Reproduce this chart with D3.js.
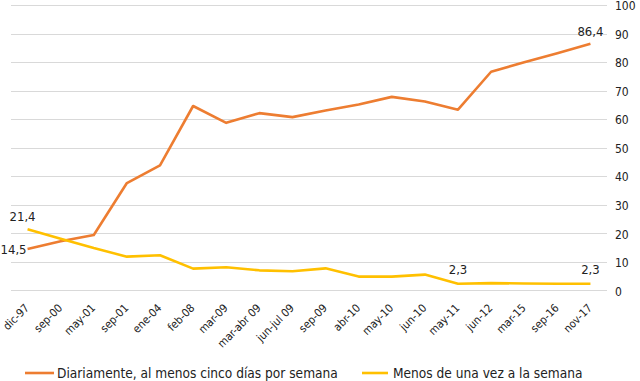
<!DOCTYPE html>
<html><head><meta charset="utf-8">
<script src="https://cdn.jsdelivr.net/npm/d3@7"></script>
<style>body{margin:0;background:#fff}svg{display:block}</style>
</head><body>
<svg id="c" width="640" height="381"></svg>
<script>
const categories = ["dic-97","sep-00","may-01","sep-01","ene-04","feb-08","mar-09","mar-abr 09","jun-jul 09","sep-09","abr-10","may-10","jun-10","may-11","jun-12","mar-15","sep-16","nov-17"];
const diariamente = [14.5,17.2,19.4,37.6,43.8,64.6,58.7,62.1,60.7,63.0,65.1,67.8,66.2,63.3,76.6,79.9,83.1,86.4];
const menosUnaVez = [21.4,18.1,14.8,11.8,12.3,7.6,8.1,7.0,6.7,7.7,4.8,4.8,5.5,2.3,2.5,2.4,2.3,2.3];
const yTicks = [0,10,20,30,40,50,60,70,80,90,100];
const seriesNames = ["Diariamente, al menos cinco días por semana","Menos de una vez a la semana"];
const colors = ["#ED7D31","#FFC000"];

const svg = d3.select("#c");
const font = "'DejaVu Sans Condensed','DejaVu Sans',sans-serif";
const x = d3.scalePoint().domain(categories).range([11,607]).padding(0.5);
const y = d3.scaleLinear().domain([0,100]).range([290.3,5]);

// gridlines
svg.append("g").selectAll("line").data(yTicks).join("line")
  .attr("x1",11).attr("x2",607)
  .attr("y1",d=>Math.round(y(d))+0.5).attr("y2",d=>Math.round(y(d))+0.5)
  .attr("stroke","#d9d9d9").attr("stroke-width",1);

// right axis
const ya = d3.axisRight(y).tickValues(yTicks).tickSize(0).tickPadding(0);
const gy = svg.append("g").attr("transform","translate(615,0)").call(ya);
gy.select(".domain").remove();
gy.selectAll("text").attr("font-family",font).attr("font-size",12).attr("fill","#222").attr("dy","0.4em");

// x axis labels
const xa = d3.axisBottom(x).tickSize(0).tickPadding(0);
const gx = svg.append("g").attr("transform","translate(0,306)").call(xa);
gx.select(".domain").remove();
gx.selectAll("text").attr("font-family",font).attr("font-size",11.2).attr("fill","#222")
  .attr("text-anchor","end").attr("dy","0.35em")
  .attr("transform","translate(-1,0) rotate(-45)");

const line = d3.line().x((d,i)=>x(categories[i])).y(d=>y(d));
[diariamente, menosUnaVez].forEach((s,k)=>{
  svg.append("path").datum(s).attr("d",line).attr("fill","none")
    .attr("stroke",colors[k]).attr("stroke-width",2.6).attr("stroke-linejoin","round");
});

// data labels
const lab = (txt,xx,yy,anchor)=>svg.append("text").text(txt).attr("x",xx).attr("y",yy)
  .attr("text-anchor",anchor).attr("font-family",font).attr("font-size",13).attr("fill","#222");
lab("21,4", x(categories[0]) - 5, y(menosUnaVez[0]) - 8, "middle");
lab("14,5", x(categories[0]) - 1, y(diariamente[0]) + 5, "end");
lab("86,4", x(categories[17]), y(diariamente[17]) - 8, "middle");
lab("2,3", x(categories[13]), y(menosUnaVez[13]) - 10, "middle");
lab("2,3", x(categories[17]), y(menosUnaVez[17]) - 10, "middle");

// legend
const lg = [{x1:25,x2:54,tx:57},{x1:362,x2:388,tx:393}];
lg.forEach((p,k)=>{
  svg.append("line").attr("x1",p.x1).attr("x2",p.x2).attr("y1",373).attr("y2",373)
    .attr("stroke",colors[k]).attr("stroke-width",2.6);
  svg.append("text").text(seriesNames[k]).attr("x",p.tx).attr("y",378)
    .attr("font-family",font).attr("font-size",13.6).attr("fill","#222");
});
</script>
</body></html>
